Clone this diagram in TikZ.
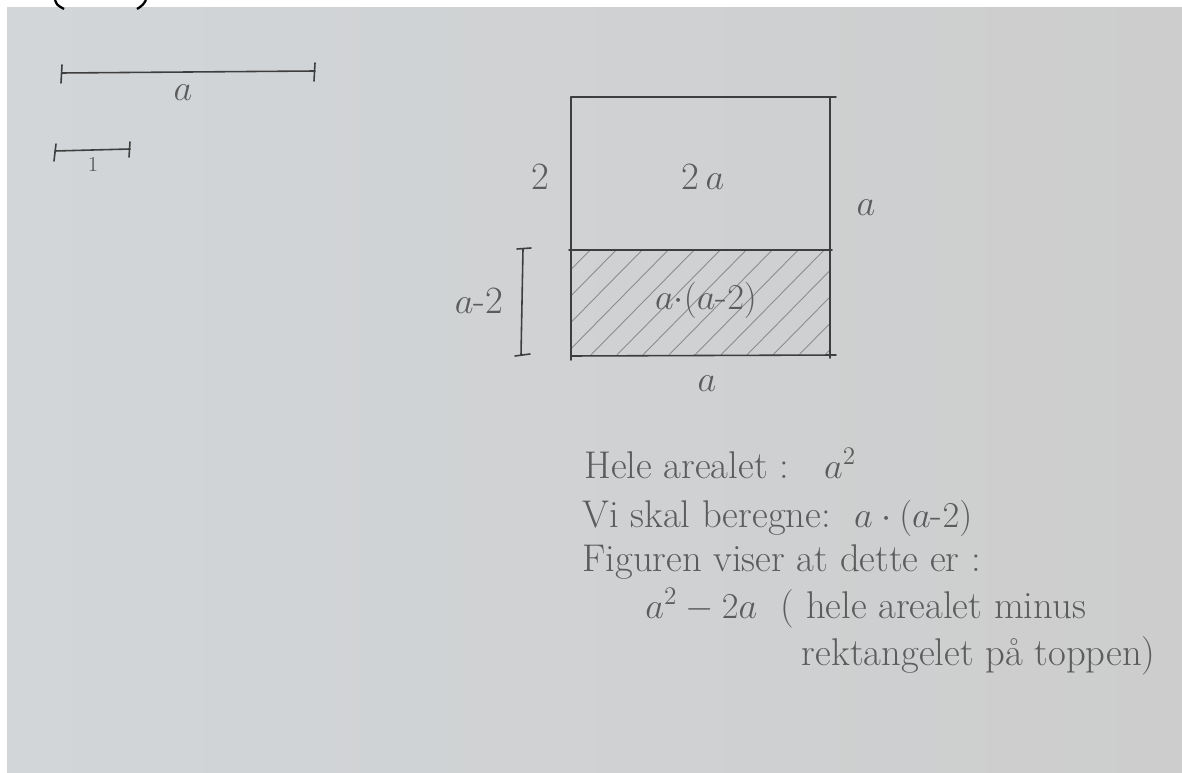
\documentclass[tikz,border=0pt]{standalone}
\usepackage{tikz}
\usetikzlibrary{positioning}
\definecolor{paperl}{RGB}{210,214,217}
\definecolor{paperm}{RGB}{223,223,223}
\definecolor{paperr}{RGB}{205,205,205}
\definecolor{pencil}{RGB}{92,92,92}
\definecolor{ink}{RGB}{62,62,62}
\definecolor{hatchgrey}{RGB}{140,140,140}
\begin{document}
\begin{tikzpicture}[x=0.02cm, y=-0.02cm]
\tikzset{
  hand/.style={text=pencil, font=\fontsize{22}{26}\selectfont, inner sep=0pt},
  small/.style={text=pencil, font=\fontsize{12}{14}\selectfont, inner sep=0pt},
  edge/.style={draw=ink, line width=0.9pt, line cap=round},
  hatch/.style={draw=hatchgrey, line width=0.5pt}
}
\useasboundingbox (0,0) rectangle (1182,773);
\shade[left color=paperl, middle color=paperm, right color=paperr] (7,8) rectangle (1182,773);
\draw[black, line width=1.3pt] (55,0) .. controls (57,5) .. (64,9);
\draw[black, line width=1.3pt] (146,0) .. controls (143,5) .. (137,9);

% units
\coordinate (a0) at (62,73);
\coordinate (a1) at (315,71);
\draw[edge] (a0) -- (a1);
\draw[edge] (a0) ++(0,-8) -- ++(-1,18);
\draw[edge] (a1) ++(0,-8) -- ++(-1,18);
\node[hand] (la) at (183,93) {$a$};
\coordinate (e0) at (55,151);
\coordinate (e1) at (130,149);
\draw[edge] (e0) -- (e1);
\draw[edge] (e0) ++(1,-7) -- ++(-2,17);
\draw[edge] (e1) ++(0,-7) -- ++(-1,15);
\node[small] (le) at (93,164) {1};

% square
\coordinate (tl) at (571,97);
\coordinate (tr) at (836,97);
\coordinate (ml) at (569,250);
\coordinate (mr) at (832,250);
\coordinate (bl) at (571,356);
\coordinate (br) at (836,355);
\begin{scope}
\clip (571,250) rectangle (830,355);
\foreach \i in {0,...,16}
  \draw[hatch] (480+\i*26,362) -- ++(118,-120);
\end{scope}
\draw[edge] (tl) -- (tr);
\draw[edge] (571,97) -- (571,360);
\draw[edge] (830,97) -- (830,358);
\draw[edge] (ml) -- (mr);
\draw[edge] (bl) -- (br);
\coordinate (b0) at (523,249);
\coordinate (b1) at (521,355);
\draw[edge] (b0) -- (b1);
\draw[edge] (b0) ++(-6,0) -- ++(14,-1);
\draw[edge] (b1) ++(-6,1) -- ++(15,-2);

\node[hand] (two) at (540,177) {2};
\node[hand] (twoa) at (703,177) {2\,$a$};
\node[hand] (aright) at (866,208) {$a$};
\node[hand] (amin) at (479,301) {$a$-2};
\node[hand] (prod) at (706,300) {$a{\cdot}(a$-$2)$};
\node[hand] (abot) at (707,384) {$a$};

% text
\node[hand, anchor=base west] (l1) at (584,478) {Hele arealet :\ \ \ $a^2$};
\node[hand, anchor=base west] (l2) at (582,527) {Vi skal beregne:\ \ $a\cdot(a$-$2)$};
\node[hand, anchor=base west] (l3) at (582,571) {Figuren viser at dette er :};
\node[hand, anchor=base west] (l4) at (645,618) {$a^2-2a$\ \ ( hele arealet minus};
\node[hand, anchor=base east] (l5) at (1156,665) {rektangelet på toppen)};
\end{tikzpicture}
\end{document}
